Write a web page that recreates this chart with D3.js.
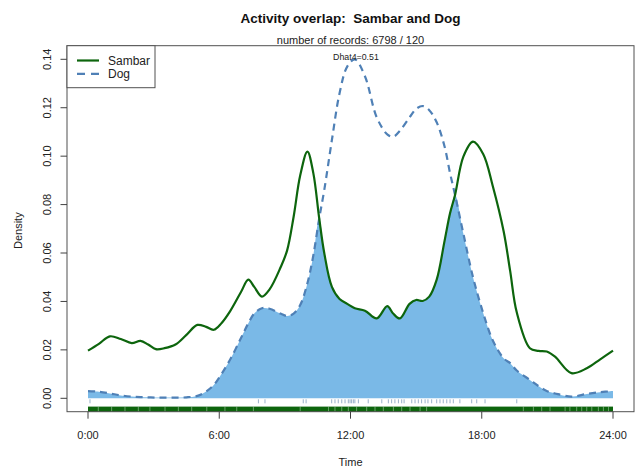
<!DOCTYPE html>
<html>
<head>
<meta charset="utf-8">
<script src="https://cdn.jsdelivr.net/npm/d3@7/dist/d3.min.js"></script>
<style>
  html, body { margin: 0; padding: 0; background: #fff; }
  svg { display: block; font-family: "Liberation Sans", Arial, sans-serif; }
  text { white-space: pre; }
</style>
</head>
<body>
<svg id="chart" width="639" height="470"></svg>
<script>
// Kernel density estimates of activity (time of day, hours) for two species
const times = [0, 0.5, 1.0, 1.5, 2.0, 2.4, 2.75, 3.1, 3.5, 4.0, 4.5, 5.0, 5.4, 5.75, 6.1, 6.5,
  7.0, 7.33, 7.6, 7.95, 8.3, 8.8, 9.1, 9.4, 9.7, 10.03, 10.3, 10.57, 10.8, 11.15, 11.5, 11.85,
  12.2, 12.66, 13.2, 13.68, 13.95, 14.26, 14.7, 15.0, 15.3, 15.6, 15.94, 16.3, 16.55, 16.78,
  17.16, 17.6, 18.07, 18.5, 19.0, 19.3, 19.6, 20.2, 20.6, 20.97, 21.35, 22.1, 22.8, 23.4, 24.0];

const sambar = [0.0197, 0.0225, 0.0256, 0.0245, 0.0228, 0.0237, 0.0222, 0.0203, 0.0207, 0.0222, 0.0262, 0.0303, 0.0295, 0.0283, 0.0310, 0.0360,
  0.0440, 0.0490, 0.0460, 0.0420, 0.0450, 0.0540, 0.0610, 0.0750, 0.0920, 0.1019, 0.0930, 0.0743, 0.0600, 0.0460, 0.0410, 0.0390,
  0.0372, 0.0362, 0.0330, 0.0381, 0.0350, 0.0330, 0.0390, 0.0406, 0.0402, 0.0420, 0.0490, 0.0650, 0.0764, 0.0840,
  0.0998, 0.1060, 0.1008, 0.0878, 0.0690, 0.0525, 0.0355, 0.0207, 0.0196, 0.0193, 0.0172, 0.0104, 0.0124, 0.0160, 0.0197];

const dog = [0.0030, 0.0027, 0.0020, 0.0012, 0.0007, 0.0005, 0.0004, 0.0003, 0.0003, 0.0003, 0.0004, 0.0010, 0.0028, 0.0055, 0.0100, 0.0160,
  0.0250, 0.0310, 0.0350, 0.0372, 0.0370, 0.0350, 0.0340, 0.0350, 0.0385, 0.0475, 0.0590, 0.0743, 0.0860, 0.1067, 0.1260, 0.1370,
  0.1400, 0.1330, 0.1160, 0.1090, 0.1080, 0.1105, 0.1160, 0.1195, 0.1207, 0.1190, 0.1140, 0.1040, 0.0930, 0.0840,
  0.0680, 0.0500, 0.0351, 0.0240, 0.0165, 0.0145, 0.0115, 0.0076, 0.0050, 0.0030, 0.0020, 0.0007, 0.0018, 0.0025, 0.0030];

// Individual dog records (hours) shown as a rug
const dogRecords = [0.09, 7.79, 8.09, 9.84, 9.97, 11.14, 11.29, 11.44, 11.6, 11.75, 11.9, 11.98, 12.05, 12.13,
  12.2, 12.36, 12.81, 13.43, 13.73, 13.88, 14.03, 14.19, 14.34, 14.45, 14.8, 14.95, 15.1, 15.25, 15.41,
  15.54, 15.71, 15.94, 16.09, 16.24, 16.4, 16.55, 16.7, 17.0, 17.54, 17.77, 18.15, 19.6];

// Sambar records are dense enough to form a band; these are the sparse spots within it
const sambarRugGaps = [0.47, 1.08, 1.69, 2.3, 2.83, 3.52, 4.13, 4.74, 5.43, 6.26, 6.8, 7.56, 9.7,
  10.99, 11.29, 11.6, 11.9, 12.28, 12.74, 13.12, 13.5, 13.96, 14.34, 14.72, 15.18, 15.48,
  19.9, 20.36, 20.74, 21.12, 21.81, 22.03, 22.34, 22.57, 22.8, 23.03, 23.33, 23.56, 23.79];

const xTicks = [0, 6, 12, 18, 24];
const xTickLabels = ["0:00", "6:00", "12:00", "18:00", "24:00"];
const yTicks = [0, 0.02, 0.04, 0.06, 0.08, 0.10, 0.12, 0.14];
const seriesNames = ["Sambar", "Dog"];
const overlapLabel = "Dhat4=0.51";

// Layout
const box = { left: 67, right: 634, top: 45.7, bottom: 411.7 };
const green = "#0d650d";
const dogBlue = "#4f80b6";
const fillBlue = "#7ab9e7";

const svg = d3.select("#chart");

const x = d3.scaleLinear().domain([0, 24]).range([88, 613]);
const y = d3.scaleLinear().domain([0, 0.14]).range([398.3, 59.3]);

const sData = times.map((t, i) => ({ t, v: sambar[i] }));
const dData = times.map((t, i) => ({ t, v: dog[i] }));
const mData = times.map((t, i) => ({ t, v: Math.min(sambar[i], dog[i]) }));

const curve = d3.curveCatmullRom.alpha(0.5);

// Overlap area
const area = d3.area().x(d => x(d.t)).y0(y(0)).y1(d => Math.min(y(0), y(d.v))).curve(curve);
svg.append("path").datum(mData).attr("d", area).attr("fill", fillBlue);

// Density lines
const line = d3.line().x(d => x(d.t)).y(d => y(d.v)).curve(curve);
svg.append("path").datum(dData).attr("d", line)
  .attr("fill", "none").attr("stroke", dogBlue).attr("stroke-width", 2.2)
  .attr("stroke-dasharray", "7,5");
svg.append("path").datum(sData).attr("d", line)
  .attr("fill", "none").attr("stroke", green).attr("stroke-width", 2.2);

// Rugs
const y0 = y(0);
svg.append("g").selectAll("line").data(dogRecords).join("line")
  .attr("x1", d => x(d)).attr("x2", d => x(d))
  .attr("y1", y0 + 1).attr("y2", y0 + 5)
  .attr("stroke", "#8ea8c4").attr("stroke-width", 0.9);

svg.append("rect")
  .attr("x", x(0)).attr("width", x(24) - x(0))
  .attr("y", y0 + 8.3).attr("height", 5.2)
  .attr("fill", green);
svg.append("g").selectAll("line").data(sambarRugGaps).join("line")
  .attr("x1", d => x(d)).attr("x2", d => x(d))
  .attr("y1", y0 + 8.3).attr("y2", y0 + 13.5)
  .attr("stroke", "#cfe3cf").attr("stroke-width", 0.8).attr("opacity", 0.6);

// Plot frame
svg.append("rect")
  .attr("x", box.left).attr("y", box.top)
  .attr("width", box.right - box.left).attr("height", box.bottom - box.top)
  .attr("fill", "none").attr("stroke", "#505050").attr("stroke-width", 1);

// Y axis
const yAxis = svg.append("g");
yAxis.selectAll("line").data(yTicks).join("line")
  .attr("x1", box.left - 6.5).attr("x2", box.left)
  .attr("y1", d => y(d)).attr("y2", d => y(d))
  .attr("stroke", "#404040");
yAxis.selectAll("text").data(yTicks).join("text")
  .attr("transform", d => `translate(50.5,${y(d)}) rotate(-90)`)
  .attr("text-anchor", "middle")
  .attr("font-size", 11).attr("fill", "#222")
  .text(d => d3.format(".2f")(d));
svg.append("text")
  .attr("transform", `translate(22,${(box.top + box.bottom) / 2 + 2}) rotate(-90)`)
  .attr("text-anchor", "middle").attr("font-size", 11).attr("fill", "#222")
  .text("Density");

// X axis
const xAxis = svg.append("g");
xAxis.selectAll("line").data(xTicks).join("line")
  .attr("x1", d => x(d)).attr("x2", d => x(d))
  .attr("y1", box.bottom).attr("y2", box.bottom + 7)
  .attr("stroke", "#404040");
xAxis.selectAll("text").data(xTicks).join("text")
  .attr("x", d => x(d)).attr("y", 438.5)
  .attr("text-anchor", "middle").attr("font-size", 11).attr("fill", "#222")
  .text((d, i) => xTickLabels[i]);
svg.append("text")
  .attr("x", (box.left + box.right) / 2).attr("y", 465.5)
  .attr("text-anchor", "middle").attr("font-size", 11).attr("fill", "#222")
  .text("Time");

// Titles
svg.append("text")
  .attr("x", (box.left + box.right) / 2).attr("y", 22.5)
  .attr("text-anchor", "middle").attr("font-size", 13.5).attr("font-weight", "bold").attr("fill", "#111")
  .text("Activity overlap:  Sambar and Dog");
svg.append("text")
  .attr("x", (box.left + box.right) / 2).attr("y", 44)
  .attr("text-anchor", "middle").attr("font-size", 11).attr("fill", "#222")
  .text("number of records: 6798 / 120");
svg.append("text")
  .attr("x", x(12.25)).attr("y", 60)
  .attr("text-anchor", "middle").attr("font-size", 8.8).attr("fill", "#222")
  .text(overlapLabel);

// Legend
const legend = svg.append("g");
legend.append("rect")
  .attr("x", box.left).attr("y", box.top)
  .attr("width", 88).attr("height", 42)
  .attr("fill", "#fff").attr("stroke", "#505050");
const legendStyles = [
  { color: green, dash: null },
  { color: dogBlue, dash: "8,6" }
];
seriesNames.forEach((name, i) => {
  const ly = 60.5 + i * 13.3;
  legend.append("line")
    .attr("x1", 77).attr("x2", 99).attr("y1", ly).attr("y2", ly)
    .attr("stroke", legendStyles[i].color).attr("stroke-width", 2.2)
    .attr("stroke-dasharray", legendStyles[i].dash);
  legend.append("text")
    .attr("x", 108).attr("y", ly + 4.2)
    .attr("font-size", 12).attr("fill", "#222")
    .text(name);
});
</script>
</body>
</html>
